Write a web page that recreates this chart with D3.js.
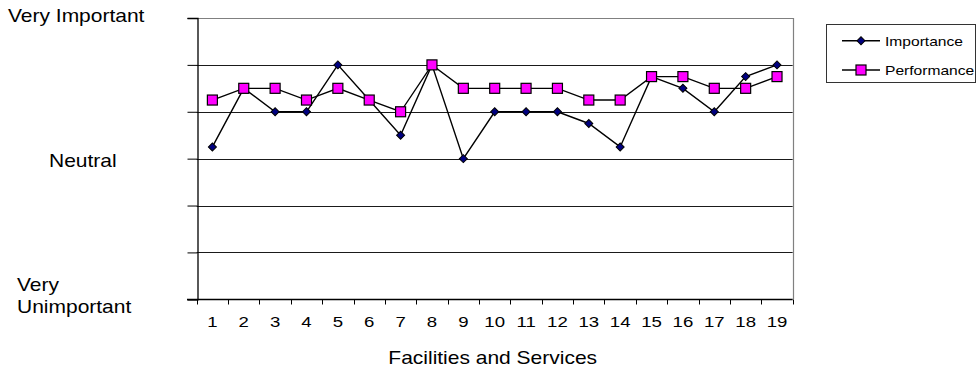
<!DOCTYPE html>
<html>
<head>
<meta charset="utf-8">
<script src="https://cdn.jsdelivr.net/npm/d3@7"></script>
<style>
  html, body { margin: 0; padding: 0; background: #fff; }
  svg { display: block; }
  text { font-family: "Liberation Sans", Arial, sans-serif; fill: #000; }
</style>
</head>
<body>
<svg id="chart" width="980" height="369"></svg>
<script>
// ---- data ----
const categories = ["1","2","3","4","5","6","7","8","9","10","11","12","13","14","15","16","17","18","19"];
const importance = [4.25, 5.5, 5.0, 5.0, 6.0, 5.25, 4.5, 6.0, 4.0, 5.0, 5.0, 5.0, 4.75, 4.25, 5.75, 5.5, 5.0, 5.75, 6.0];
const performance = [5.25, 5.5, 5.5, 5.25, 5.5, 5.25, 5.0, 6.0, 5.5, 5.5, 5.5, 5.5, 5.25, 5.25, 5.75, 5.75, 5.5, 5.5, 5.75];
const yTicks = [1, 2, 3, 4, 5, 6, 7];
const yLabels = [
  { lines: ["Very Important"], value: 7 },
  { lines: ["Neutral"], value: 4 },
  { lines: ["Very", "Unimportant"], value: 1 }
];
const xTitle = "Facilities and Services";
const seriesNames = ["Importance", "Performance"];

// ---- layout ----
const svg = d3.select("#chart");
const L = 196.7, R = 792.7, T = 18, B = 299.3;
const x = d3.scaleBand().domain(categories).range([L, R]).padding(0);
const y = d3.scaleLinear().domain([1, 7]).range([B, T]);
const SX = 1.2; // horizontal stretch of the original text

function stretchedText(g, str, px, py, size, anchor) {
  return g.append("text")
    .attr("transform", `translate(${px},${py}) scale(${SX},1)`)
    .attr("text-anchor", anchor || "start")
    .style("font-size", size + "px")
    .text(str);
}

// gridlines
svg.append("g").selectAll("line")
  .data(yTicks.filter(v => v > 1 && v < 7))
  .join("line")
  .attr("x1", L).attr("x2", R)
  .attr("y1", d => Math.round(y(d)) + 0.5).attr("y2", d => Math.round(y(d)) + 0.5)
  .attr("stroke", "#1a1a1a").attr("stroke-width", 1);

// plot border top/right
svg.append("path")
  .attr("d", `M${L},${Math.round(T)+0.5}H${Math.round(R)+0.5}V${B}`)
  .attr("fill", "none").attr("stroke", "#808080").attr("stroke-width", 1.2);

// left axis
const yAxis = d3.axisLeft(y).tickValues(yTicks).tickSize(10).tickFormat("");
svg.append("g").attr("transform", `translate(${Math.round(L)+0.5},0)`).call(yAxis)
  .call(g => g.select(".domain").attr("stroke", "#000").attr("stroke-width", 1.3))
  .call(g => g.selectAll(".tick line").attr("stroke", "#000"));

// bottom axis (ticks at band boundaries)
const xBoundaries = categories.map(c => x(c)).concat([R]);
const xAxisG = svg.append("g").attr("transform", `translate(0,${Math.round(B)+0.5})`);
xAxisG.append("line").attr("x1", 187).attr("x2", R).attr("y1", 0).attr("y2", 0)
  .attr("stroke", "#000").attr("stroke-width", 1.3);
xAxisG.selectAll("line.tk").data(xBoundaries).join("line").attr("class", "tk")
  .attr("x1", d => Math.round(d) + 0.5).attr("x2", d => Math.round(d) + 0.5)
  .attr("y1", 0).attr("y2", 5).attr("stroke", "#000");
categories.forEach(c => {
  stretchedText(svg, c, x(c) + x.bandwidth() / 2, 327, 15.5, "middle");
});

// x title
stretchedText(svg, xTitle, (L + R) / 2 - 2, 364, 17.5, "middle");

// y labels
stretchedText(svg, yLabels[0].lines[0], 8, 22, 17.5, "start");
stretchedText(svg, yLabels[1].lines[0], 49, 167, 17.5, "start");
stretchedText(svg, yLabels[2].lines[0], 17, 290.7, 17.5, "start");
stretchedText(svg, yLabels[2].lines[1], 17, 313.3, 17.5, "start");

// lines
const cx = (d, i) => x(categories[i]) + x.bandwidth() / 2;
const line = d3.line().x((d, i) => cx(d, i)).y(d => y(d));
svg.append("path").datum(importance).attr("d", line)
  .attr("fill", "none").attr("stroke", "#000").attr("stroke-width", 1.4);
svg.append("path").datum(performance).attr("d", line)
  .attr("fill", "none").attr("stroke", "#000").attr("stroke-width", 1.4);

const diamond = d3.symbol().type(d3.symbolSquare).size(36);
function drawDiamond(g, px, py) {
  g.append("path").attr("d", d3.symbol().type(d3.symbolSquare).size(32)())
    .attr("transform", `translate(${px},${py}) rotate(45)`)
    .attr("fill", "#000080").attr("stroke", "#000").attr("stroke-width", 1);
}
function drawSquare(g, px, py) {
  g.append("rect").attr("x", px - 5).attr("y", py - 5).attr("width", 10).attr("height", 10)
    .attr("fill", "#FF00FF").attr("stroke", "#000").attr("stroke-width", 1.2);
}
const mg = svg.append("g");
importance.forEach((v, i) => drawDiamond(mg, cx(v, i), y(v)));
const pg = svg.append("g");
performance.forEach((v, i) => drawSquare(pg, cx(v, i), y(v)));

// legend
const lg = svg.append("g");
lg.append("rect").attr("x", 826.5).attr("y", 24.5).attr("width", 149).attr("height", 58)
  .attr("fill", "#fff").attr("stroke", "#333").attr("stroke-width", 1);
const legY = [40.7, 70];
seriesNames.forEach((name, i) => {
  lg.append("line").attr("x1", 842).attr("x2", 880).attr("y1", legY[i]).attr("y2", legY[i])
    .attr("stroke", "#000").attr("stroke-width", 1.4);
  if (i === 0) drawDiamond(lg, 861, legY[i]); else drawSquare(lg, 861, legY[i]);
  stretchedText(lg, name, 885, legY[i] + 5, 13, "start");
});
</script>
</body>
</html>
